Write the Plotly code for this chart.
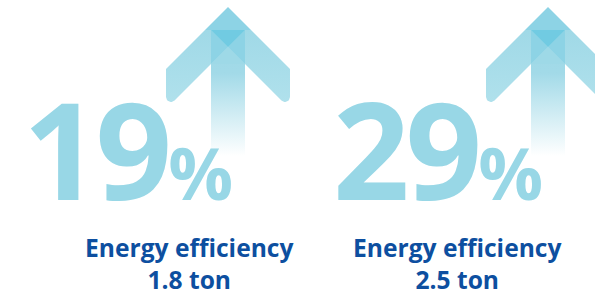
import numpy as np
import plotly.graph_objects as go

# ---- data ----
pct_values = [19, 29]
labels = ["Energy efficiency", "Energy efficiency"]
tons = [1.8, 2.5]

# ---- style / layout ----
W, H = 595, 300
NUM_COLOR = "#98d7e6"
LABEL_COLOR = "#0d4fa0"
MID = "#8dd3e5"
DARK = "#71cbe2"
BOT = "#9ed9e7"

ARROW_DX = 320
NUM_DX = 310
LABEL_DX = 268

fig = go.Figure()


def poly(xs, ys, color=None, gradient=None):
    xs = list(xs) + [xs[0]]
    ys = list(ys) + [ys[0]]
    kw = dict(x=xs, y=ys, mode="lines", fill="toself", line=dict(width=0),
              hoverinfo="skip", showlegend=False)
    if gradient is not None:
        kw["fillgradient"] = gradient
    else:
        kw["fillcolor"] = color
    fig.add_trace(go.Scatter(**kw))


def arrow(ax):
    top = 7
    half = 17
    band_top = 30
    poly([ax - half, ax + half, ax + half, ax - half],
         [band_top, band_top, 160, 160],
         gradient=dict(type="vertical", start=band_top, stop=160,
                       colorscale=[[0, "#9fd9e7"], [0.33, "#a2dae8"],
                                   [0.97, "#ffffff"], [1, "#ffffff"]]))
    r = 5.0
    outer_x = ax - 62
    c_inner = ax + 47
    cx = outer_x + r
    cy = (c_inner - outer_x) - r - r * np.sqrt(2)
    ts = np.linspace(np.pi, np.pi / 4, 12)
    arc_x = cx + r * np.cos(ts)
    arc_y = cy + r * np.sin(ts)
    lx = [ax - 23, ax + half] + list(arc_x[::-1]) + [outer_x]
    ly = [band_top, band_top] + list(arc_y[::-1]) + [top + 62]
    grad = dict(type="vertical", start=band_top, stop=104,
                colorscale=[[0, "#a0d9e7"], [1, "#b0e1ec"]])
    poly(lx, ly, gradient=grad)
    rx = [2 * ax - v for v in lx]
    poly(rx, ly, gradient=grad)
    poly([ax, ax - 23, ax + 23], [top, band_top, band_top], MID)
    cy2 = band_top + half
    poly([ax - half, ax, ax - half], [band_top, cy2, band_top + 2 * half], MID)
    poly([ax + half, ax, ax + half], [band_top, cy2, band_top + 2 * half], MID)
    poly([ax - half, ax + half, ax], [band_top, band_top, cy2], DARK)
    poly([ax, ax - half, ax + half], [cy2, band_top + 2 * half, band_top + 2 * half], BOT)


annotations = []
for i, (v, lab, t) in enumerate(zip(pct_values, labels, tons)):
    arrow(228 + i * ARROW_DX)
    annotations.append(dict(
        x=21 + i * NUM_DX, y=241, xref="x", yref="y",
        xanchor="left", yanchor="bottom", showarrow=False,
        text=(f"<span style='letter-spacing:-4px'>{v}</span>"
              f"<span style='font-size:72px'>%</span>"),
        font=dict(family="Open Sans", size=134, color=NUM_COLOR, weight="bold"),
    ))
    annotations.append(dict(
        x=189 + i * LABEL_DX, y=229, xref="x", yref="y",
        xanchor="center", yanchor="top", showarrow=False,
        text=f"{lab}<br>{t} ton",
        font=dict(family="Open Sans", size=24.6, color=LABEL_COLOR, weight="bold"),
    ))

fig.update_layout(
    width=W, height=H, margin=dict(l=0, r=0, t=0, b=0),
    paper_bgcolor="white", plot_bgcolor="white",
    xaxis=dict(range=[0, W], visible=False, fixedrange=True),
    yaxis=dict(range=[H, 0], visible=False, fixedrange=True),
    annotations=annotations,
)

fig.write_html(
    "out.html",
    config={"displayModeBar": False, "staticPlot": True},
    post_script="document.body.style.margin='0';document.body.style.overflow='hidden';",
)
